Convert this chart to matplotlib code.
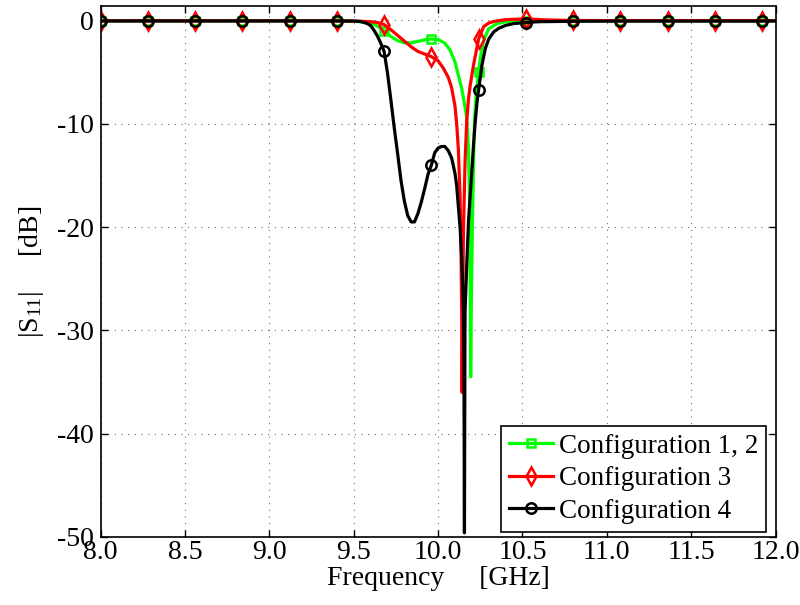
import numpy as np
import matplotlib
matplotlib.use("Agg")
import matplotlib.pyplot as plt

plt.rcParams["font.family"] = ["Liberation Serif", "DejaVu Serif"]
plt.rcParams["mathtext.fontset"] = "custom"
plt.rcParams["mathtext.rm"] = "Liberation Serif"
plt.rcParams["mathtext.it"] = "Liberation Serif:italic"

# Frequencies [GHz] where the series markers sit
marker_freq = [8.00, 8.28, 8.56, 8.84, 9.12, 9.40, 9.68, 9.96,
               10.24, 10.52, 10.80, 11.08, 11.36, 11.64, 11.92]

# Configuration 1, 2
g_freq = [8.00, 8.28, 8.56, 8.84, 9.12, 9.40, 9.50, 9.58, 9.62, 9.65,
          9.68, 9.72, 9.76, 9.80, 9.84, 9.88, 9.92, 9.96, 10.00, 10.04,
          10.07, 10.10, 10.12, 10.14, 10.15, 10.16, 10.17, 10.18, 10.186, 10.19,
          10.193, 10.197, 10.203, 10.21, 10.215, 10.225, 10.24, 10.25, 10.27, 10.30,
          10.35, 10.40, 10.45, 10.52, 10.80, 11.08, 11.36, 11.64, 11.92, 12.00]
g_s11 = [-0.03, -0.03, -0.03, -0.03, -0.03, -0.04, -0.07, -0.20, -0.38, -0.65,
         -1.00, -1.55, -1.95, -2.17, -2.17, -2.02, -1.88, -1.80, -1.85, -2.20,
         -2.85, -4.00, -5.30, -6.60, -7.50, -8.40, -9.50, -12.5, -17.0, -25.0,
         -34.5, -27.0, -20.0, -13.5, -10.0, -7.20, -5.00, -3.60, -1.90, -0.80,
         -0.30, -0.12, -0.07, -0.05, -0.03, -0.03, -0.03, -0.03, -0.03, -0.03]

# Configuration 3
r_freq = [8.00, 8.28, 8.56, 8.84, 9.12, 9.40, 9.50, 9.60, 9.64, 9.68,
          9.72, 9.76, 9.80, 9.84, 9.88, 9.92, 9.96, 10.00, 10.03, 10.06,
          10.08, 10.10, 10.11, 10.12, 10.13, 10.135, 10.14, 10.142, 10.146, 10.15,
          10.16, 10.17, 10.18, 10.19, 10.21, 10.24, 10.27, 10.30, 10.33, 10.40,
          10.52, 10.65, 10.80, 11.08, 11.36, 11.64, 11.92, 12.00]
r_s11 = [-0.03, -0.03, -0.03, -0.03, -0.03, -0.04, -0.06, -0.12, -0.20, -0.40,
         -0.90, -1.45, -2.00, -2.55, -3.00, -3.25, -3.50, -3.90, -4.60, -5.50,
         -6.50, -8.30, -10.0, -12.5, -17.0, -21.0, -29.0, -36.0, -28.0, -20.5,
         -13.5, -9.60, -7.60, -6.30, -4.30, -1.80, -0.60, -0.25, -0.10, 0.08,
         0.15, 0.05, 0.00, -0.02, -0.02, -0.02, -0.02, -0.02]

# Configuration 4
b_freq = [8.00, 8.28, 8.56, 8.84, 9.12, 9.40, 9.50, 9.54, 9.58, 9.60,
          9.62, 9.64, 9.66, 9.68, 9.70, 9.72, 9.74, 9.76, 9.78, 9.80,
          9.82, 9.84, 9.86, 9.88, 9.90, 9.92, 9.94, 9.96, 9.98, 10.00,
          10.02, 10.04, 10.06, 10.08, 10.10, 10.11, 10.12, 10.13, 10.14, 10.15,
          10.153, 10.156, 10.159, 10.16, 10.17, 10.18, 10.19, 10.20, 10.21, 10.22,
          10.23, 10.24, 10.26, 10.28, 10.30, 10.33, 10.36, 10.40, 10.45, 10.52,
          10.60, 10.80, 11.08, 11.36, 11.64, 11.92, 12.00]
b_s11 = [-0.05, -0.05, -0.05, -0.05, -0.05, -0.05, -0.06, -0.10, -0.30, -0.50,
         -0.95, -1.50, -2.20, -3.00, -5.10, -7.70, -10.4, -12.9, -15.5, -17.5,
         -18.9, -19.5, -19.5, -18.7, -17.6, -16.3, -14.9, -14.0, -12.8, -12.35,
         -12.2, -12.2, -12.6, -13.3, -14.8, -16.0, -18.0, -20.0, -23.0, -28.0,
         -33.0, -49.6, -30.0, -28.0, -23.5, -19.5, -17.0, -14.5, -12.0, -9.80,
         -8.00, -6.70, -4.30, -2.70, -1.80, -1.10, -0.75, -0.48, -0.30, -0.20,
         -0.12, -0.08, -0.06, -0.06, -0.06, -0.06, -0.05]

labels = ["Configuration 1, 2", "Configuration 3", "Configuration 4"]
colors = ["#00ff00", "#ff0000", "#000000"]
markers = ["s", "d", "o"]
msizes = [6.0, 9.0, 7.5]

x_ticks = [8.0, 8.5, 9.0, 9.5, 10.0, 10.5, 11.0, 11.5, 12.0]
x_ticklabels = ["8.0", "8.5", "9.0", "9.5", "10.0", "10.5", "11.0", "11.5", "12.0"]
y_ticks = [-50, -40, -30, -20, -10, 0]
y_ticklabels = ["-50", "-40", "-30", "-20", "-10", "0"]

fig = plt.figure(figsize=(8.0, 6.05), dpi=100)
ax = fig.add_axes([0.1259, 0.1124, 0.8435, 0.8777])

series = [(g_freq, g_s11), (r_freq, r_s11), (b_freq, b_s11)]
for (f, s), lab, col, mk, ms in zip(series, labels, colors, markers, msizes):
    f = np.asarray(f)
    s = np.asarray(s)
    assert len(f) == len(s)
    idx = [int(np.argmin(np.abs(f - m))) for m in marker_freq]
    ax.plot(f, s, color=col, lw=2.3, marker=mk, markevery=idx, ms=ms,
            mfc="none", mec=col, mew=1.8, label=lab)

ax.set_xlim(8.0, 12.0)
ax.set_ylim(-50, 1.4)
ax.set_xticks(x_ticks)
ax.set_xticklabels(x_ticklabels)
ax.set_yticks(y_ticks)
ax.set_yticklabels(y_ticklabels)
ax.tick_params(direction="in", top=True, right=True, length=5, width=1.0,
               labelsize=20)
ax.tick_params(axis="x", pad=2)
ax.tick_params(axis="y", pad=5)
for sp in ax.spines.values():
    sp.set_linewidth(1.2)

ax.grid(True, color="0.45", linestyle=(0, (1, 5)), linewidth=0.8)
ax.set_axisbelow(True)

ax.set_xlabel("Frequency     [GHz]", fontsize=20, labelpad=1)
ax.set_ylabel(r"$|\mathrm{S}_{11}|$     [dB]", fontsize=20, labelpad=8)

leg = ax.legend(loc="lower right", bbox_to_anchor=(0.986, 0.01),
                borderaxespad=0, fontsize=19.5, fancybox=False, framealpha=1,
                edgecolor="black", handlelength=1.63, handletextpad=0.21,
                labelspacing=0.27, borderpad=0.3, numpoints=1)
leg.get_frame().set_linewidth(1.2)

fig.savefig("out.png", dpi=100)
